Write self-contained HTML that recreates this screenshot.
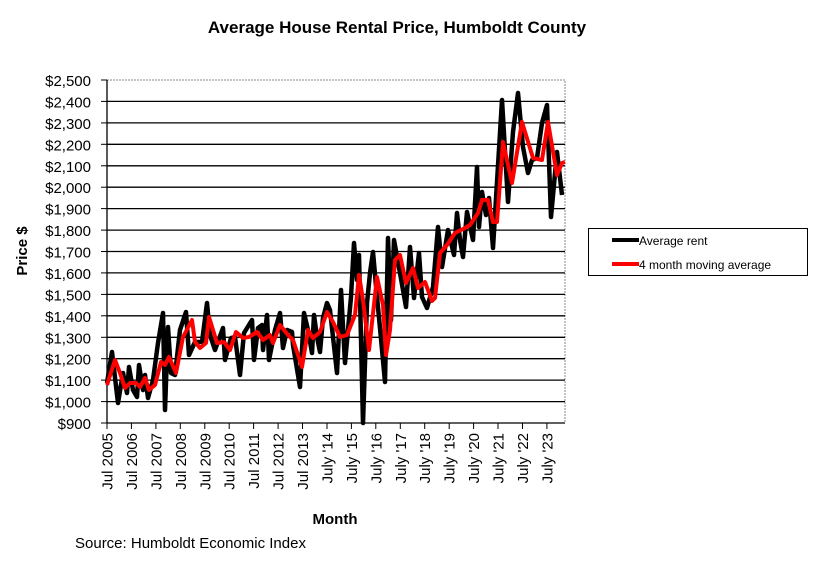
<!DOCTYPE html>
<html><head><meta charset="utf-8"><style>
html,body{margin:0;padding:0;background:#fff;}
svg text{font-family:"Liberation Sans",Arial,sans-serif;fill:#000;}
</style></head><body>
<svg width="815" height="563" xmlns="http://www.w3.org/2000/svg">
<text x="397" y="33" font-size="17" font-weight="bold" text-anchor="middle">Average House Rental Price, Humboldt County</text>
<rect x="107" y="80" width="458" height="343" fill="none" stroke="#888" stroke-width="1" stroke-dasharray="2,1"/>
<g stroke="#000" stroke-width="1.3">
<line x1="107" y1="101.4" x2="565" y2="101.4"/><line x1="107" y1="122.9" x2="565" y2="122.9"/><line x1="107" y1="144.3" x2="565" y2="144.3"/><line x1="107" y1="165.8" x2="565" y2="165.8"/><line x1="107" y1="187.2" x2="565" y2="187.2"/><line x1="107" y1="208.6" x2="565" y2="208.6"/><line x1="107" y1="230.1" x2="565" y2="230.1"/><line x1="107" y1="251.5" x2="565" y2="251.5"/><line x1="107" y1="272.9" x2="565" y2="272.9"/><line x1="107" y1="294.4" x2="565" y2="294.4"/><line x1="107" y1="315.8" x2="565" y2="315.8"/><line x1="107" y1="337.3" x2="565" y2="337.3"/><line x1="107" y1="358.7" x2="565" y2="358.7"/><line x1="107" y1="380.1" x2="565" y2="380.1"/><line x1="107" y1="401.6" x2="565" y2="401.6"/>
<line x1="107" y1="80" x2="107" y2="423"/><line x1="107" y1="423" x2="565" y2="423"/>
</g>
<g stroke="#000" stroke-width="1">
<line x1="101" y1="80" x2="107" y2="80"/><line x1="101" y1="101.4" x2="107" y2="101.4"/><line x1="101" y1="122.9" x2="107" y2="122.9"/><line x1="101" y1="144.3" x2="107" y2="144.3"/><line x1="101" y1="165.8" x2="107" y2="165.8"/><line x1="101" y1="187.2" x2="107" y2="187.2"/><line x1="101" y1="208.6" x2="107" y2="208.6"/><line x1="101" y1="230.1" x2="107" y2="230.1"/><line x1="101" y1="251.5" x2="107" y2="251.5"/><line x1="101" y1="272.9" x2="107" y2="272.9"/><line x1="101" y1="294.4" x2="107" y2="294.4"/><line x1="101" y1="315.8" x2="107" y2="315.8"/><line x1="101" y1="337.3" x2="107" y2="337.3"/><line x1="101" y1="358.7" x2="107" y2="358.7"/><line x1="101" y1="380.1" x2="107" y2="380.1"/><line x1="101" y1="401.6" x2="107" y2="401.6"/><line x1="101" y1="423" x2="107" y2="423"/>
<line x1="107" y1="423" x2="107" y2="429"/><line x1="131.4" y1="423" x2="131.4" y2="429"/><line x1="155.9" y1="423" x2="155.9" y2="429"/><line x1="180.3" y1="423" x2="180.3" y2="429"/><line x1="204.8" y1="423" x2="204.8" y2="429"/><line x1="229.2" y1="423" x2="229.2" y2="429"/><line x1="253.6" y1="423" x2="253.6" y2="429"/><line x1="278.1" y1="423" x2="278.1" y2="429"/><line x1="302.5" y1="423" x2="302.5" y2="429"/><line x1="327" y1="423" x2="327" y2="429"/><line x1="351.4" y1="423" x2="351.4" y2="429"/><line x1="375.8" y1="423" x2="375.8" y2="429"/><line x1="400.3" y1="423" x2="400.3" y2="429"/><line x1="424.7" y1="423" x2="424.7" y2="429"/><line x1="449.2" y1="423" x2="449.2" y2="429"/><line x1="473.6" y1="423" x2="473.6" y2="429"/><line x1="498" y1="423" x2="498" y2="429"/><line x1="522.5" y1="423" x2="522.5" y2="429"/><line x1="546.9" y1="423" x2="546.9" y2="429"/>
</g>
<g font-size="15" text-anchor="end">
<text x="91" y="86">$2,500</text><text x="91" y="107.4">$2,400</text><text x="91" y="128.9">$2,300</text><text x="91" y="150.3">$2,200</text><text x="91" y="171.8">$2,100</text><text x="91" y="193.2">$2,000</text><text x="91" y="214.6">$1,900</text><text x="91" y="236.1">$1,800</text><text x="91" y="257.5">$1,700</text><text x="91" y="278.9">$1,600</text><text x="91" y="300.4">$1,500</text><text x="91" y="321.8">$1,400</text><text x="91" y="343.3">$1,300</text><text x="91" y="364.7">$1,200</text><text x="91" y="386.1">$1,100</text><text x="91" y="407.6">$1,000</text><text x="91" y="429">$900</text>
</g>
<g font-size="15" text-anchor="end">
<text transform="translate(112.5,433) rotate(-90)">Jul 2005</text>
<text transform="translate(136.9,433) rotate(-90)">Jul 2006</text>
<text transform="translate(161.4,433) rotate(-90)">Jul 2007</text>
<text transform="translate(185.8,433) rotate(-90)">Jul 2008</text>
<text transform="translate(210.3,433) rotate(-90)">Jul 2009</text>
<text transform="translate(234.7,433) rotate(-90)">Jul 2010</text>
<text transform="translate(259.1,433) rotate(-90)">Jul 2011</text>
<text transform="translate(283.6,433) rotate(-90)">Jul 2012</text>
<text transform="translate(308,433) rotate(-90)">Jul 2013</text>
<text transform="translate(332.5,433) rotate(-90)">July '14</text>
<text transform="translate(356.9,433) rotate(-90)">July '15</text>
<text transform="translate(381.3,433) rotate(-90)">July '16</text>
<text transform="translate(405.8,433) rotate(-90)">July '17</text>
<text transform="translate(430.2,433) rotate(-90)">July '18</text>
<text transform="translate(454.7,433) rotate(-90)">July '19</text>
<text transform="translate(479.1,433) rotate(-90)">July '20</text>
<text transform="translate(503.5,433) rotate(-90)">July '21</text>
<text transform="translate(528,433) rotate(-90)">July '22</text>
<text transform="translate(552.4,433) rotate(-90)">July '23</text>
</g>
<polyline fill="none" stroke="#000" stroke-width="4.5" stroke-linejoin="round" points="107,383 112,352 118,403 123,373 127,393 129,367 133,390 137,397 139,365 143,390 145,375 148,398 153,380 158,343 163,313 165,410 168,327 171,373 175,375 180,330 186,312 189,355 195,342 202,342 207,303 210,335 215,350 223,328 225,360 231,338 235,337 240,375 244,333 252,320 254,360 258,328 262,325 263,350 267,315 269,360 275,330 280,313 283,348 287,330 292,332 293,345 300,387 304,313 308,330 312,353 314,315 317,337 320,352 323,318 327,303 330,310 337,373 341,290 345,363 351,297 354,243 357,280 359,255 363,423 367,303 370,273 373,252 377,297 380,328 385,382 388,238 391,320 394,240 400,273 406,307 410,247 414,298 419,253 422,297 427,308 433,287 438,227 442,267 448,230 454,255 457,213 460,240 463,257 467,212 473,240 477,167 479,227 482,192 486,215 489,198 493,248 502,100 508,202 513,132 518,93 523,147 528,173 532,160 537,158 542,123 547,105 551,217 557,152 562,195"/>
<polyline fill="none" stroke="#f00" stroke-width="4" stroke-linejoin="round" points="107,385 115,360 120,373 125,388 130,383 136,383 140,387 145,378 149,390 155,385 161,362 165,365 169,357 176,373 183,337 192,320 195,342 200,348 206,343 209,317 213,330 217,343 224,342 230,350 236,332 243,338 249,337 257,332 263,340 270,335 273,343 280,325 288,335 293,340 302,367 308,330 313,338 320,332 327,312 333,322 340,337 347,335 355,315 359,275 363,300 369,350 377,277 383,305 386,355 390,330 395,260 400,255 406,283 413,268 418,288 425,282 432,301 435,298 440,253 447,245 455,233 465,228 470,225 478,213 482,200 488,200 493,222 497,222 503,142 512,183 522,122 533,158 542,160 548,122 557,175 562,163 565,162"/>
<text transform="translate(27,251) rotate(-90)" font-size="15" font-weight="bold" text-anchor="middle">Price $</text>
<text x="335" y="524" font-size="15" font-weight="bold" text-anchor="middle">Month</text>
<text x="75" y="548" font-size="15">Source: Humboldt Economic Index</text>
<rect x="588.5" y="228.5" width="219" height="47" fill="#fff" stroke="#000" stroke-width="1"/>
<line x1="612" y1="240" x2="639" y2="240" stroke="#000" stroke-width="4"/>
<line x1="612" y1="264" x2="639" y2="264" stroke="#f00" stroke-width="4"/>
<text x="639" y="245" font-size="12">Average rent</text>
<text x="639" y="269" font-size="12">4 month moving average</text>
</svg>
</body></html>
